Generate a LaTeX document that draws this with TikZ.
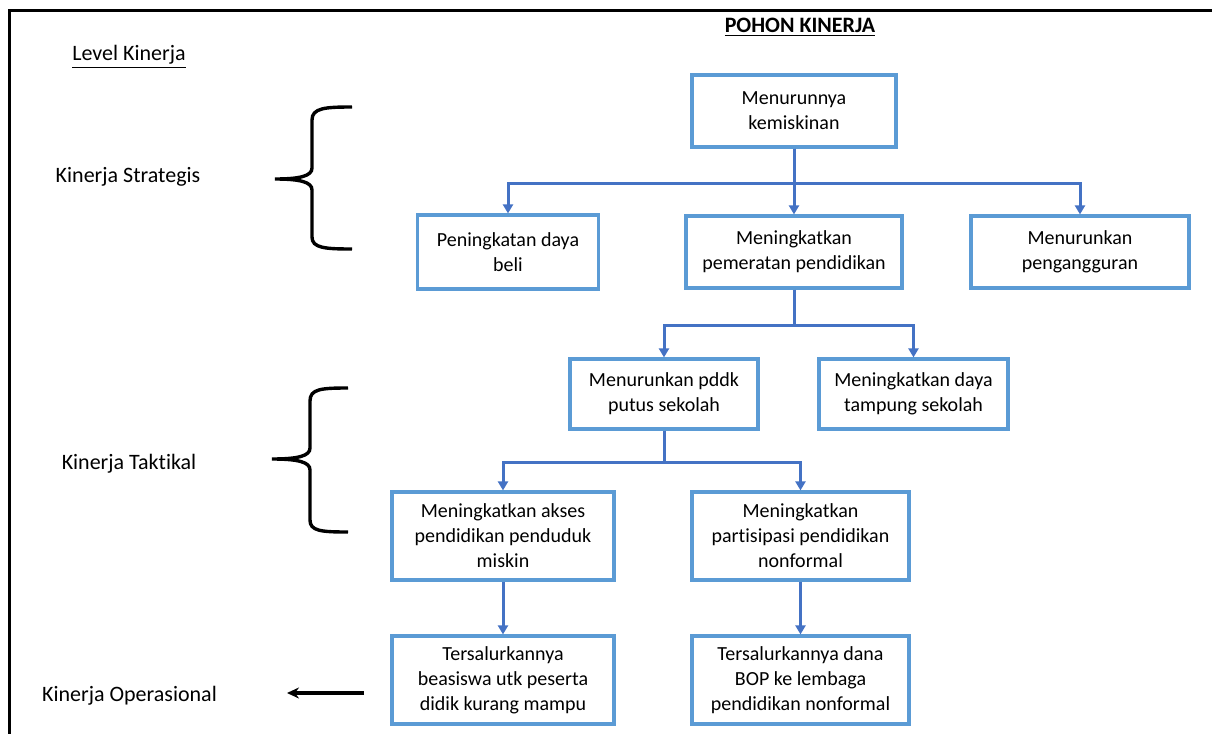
\documentclass[tikz,border=0pt]{standalone}
\usepackage{fontspec}
\setmainfont{Carlito}[Ligatures=NoCommon]
\usetikzlibrary{arrows.meta}
\definecolor{boxblue}{HTML}{5B9BD5}
\definecolor{linkblue}{HTML}{4472C4}

\begin{document}
\begin{tikzpicture}[>={Triangle[length=4.5pt,width=5pt]},x=0.5pt,y=-0.5pt,node distance=71pt,
	box/.style={draw=boxblue,line width=1.6pt,align=center,minimum height=36pt,inner sep=2pt,font=\fontsize{10}{12.5}\selectfont},
	tallbox/.style={box,minimum height=44pt},
	link/.style={draw=linkblue,line width=1.5pt,->},
	level/.style={font=\fontsize{11}{13}\selectfont},
	brace/.style={line width=1.7pt},
	oparrow/.style={line width=1.6pt,-{Stealth[length=6pt,width=5.5pt]}}]

\useasboundingbox (0,0) rectangle (1212,734);
\draw[line width=1.5pt] (9,734) -- (9,10) -- (1212,10);

\node[level]   (title)   at (800,27)   {\underline{\textbf{POHON KINERJA}}};
\node[level]   (lvl)     at (129,57)   {\underline{Level Kinerja}};
\node[level]   (strat)   at (128,177)  {Kinerja Strategis};
\node[level]   (takt)    at (129,464)  {Kinerja Taktikal};
\node[level]   (oper)    at (129.5,696) {Kinerja Operasional};

\node[box,minimum width=102pt]   (b1) at (794,111)      				{Menurunnya\\kemiskinan};
\node[box,minimum width=108pt]   (b3)[below of=b1,node distance=70.5pt]      	{Meningkatkan\\pemeratan pendidikan};
\node[box,minimum width=90.5pt,minimum height=37pt]   (b2)[left of=b3,node distance=143pt]      	{Peningkatan daya\\beli};
\node[box,minimum width=109pt]   (b4)[right of=b3,node distance=143pt]      	{Menurunkan\\pengangguran};
\node[box,minimum width=94pt,minimum height=35pt]   (b5)[below of=b3,xshift=-65pt]      	{Menurunkan pddk\\putus sekolah};
\node[box,minimum width=94.5pt,minimum height=35pt]   (b6)[right of=b5,node distance=124.75pt]      	{Meningkatkan daya\\tampung sekolah};
\node[tallbox,minimum width=111pt]   (b7)[below of=b5,xshift=-80.5pt]      	{Meningkatkan akses\\pendidikan penduduk\\miskin};
\node[tallbox,minimum width=108.5pt]   (b8)[right of=b7,node distance=148.75pt]      	{Meningkatkan\\partisipasi pendidikan\\nonformal};
\node[tallbox,minimum width=111pt]   (b9)[below of=b7,node distance=72pt]      	{Tersalurkannya\\beasiswa utk peserta\\didik kurang mampu};
\node[tallbox,minimum width=108.5pt]   (b10)[below of=b8,node distance=72pt]      	{Tersalurkannya dana\\BOP ke lembaga\\pendidikan nonformal};

\draw[link] (b1.south) -- ++(0,-17.5pt) -| (b2.north);
\draw[link] (b1.south) -- (b3.north);
\draw[link] (b1.south) -- ++(0,-17.5pt) -| (b4.north);
\draw[link] (b3.south) -- ++(0,-18pt) -| (b5.north);
\draw[link] (b3.south) -- ++(0,-18pt) -| (b6.north);
\draw[link] (b5.south) -- ++(0,-16pt) -| (b7.north);
\draw[link] (b5.south) -- ++(0,-16pt) -| (b8.north);
\draw[link] (b7) -- (b9);
\draw[link] (b8) -- (b10);

% kurung kurawal
\draw[brace] (352,107) .. controls (325,107) and (312,108) .. (312,120) -- (312,168)
	.. controls (312,176) and (300,179) .. (275,179) .. controls (300,179) and (312,182) .. (312,190)
	-- (312,237) .. controls (312,248) and (325,249) .. (352,249);
\draw[brace] (348,388) .. controls (321,388) and (310,389) .. (310,401) -- (310,448)
	.. controls (310,456) and (298,459) .. (272,459) .. controls (298,459) and (310,462) .. (310,470)
	-- (310,520) .. controls (310,531) and (321,532) .. (348,532);

\coordinate (optail) at (364,693);
\coordinate (ophead) at (287,693);
\draw[oparrow] (optail) -- (ophead);

\end{tikzpicture}
\end{document}
